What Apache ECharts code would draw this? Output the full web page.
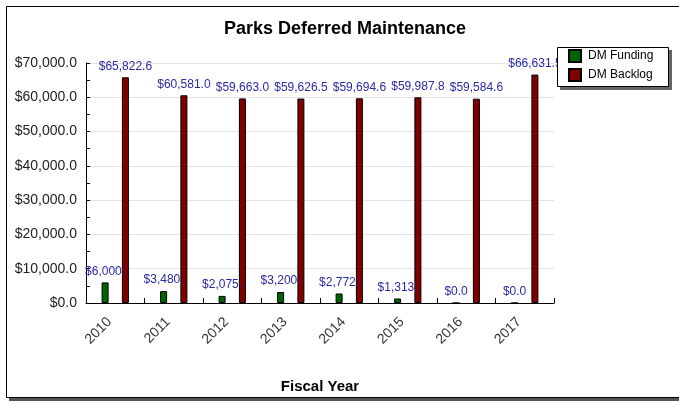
<!DOCTYPE html>
<html>
<head>
<meta charset="utf-8">
<script src="https://cdn.jsdelivr.net/npm/echarts@6/dist/echarts.min.js"></script>
<style>
html,body{margin:0;padding:0;background:#fff;}
#c{width:679px;height:403px;}
</style>
</head>
<body>
<div id="c"></div>
<script>
const categories = ['2010','2011','2012','2013','2014','2015','2016','2017'];
const dmFunding = [6000, 3480, 2075, 3200, 2772, 1313, 0, 0];
const dmBacklog = [65822.6, 60581.0, 59663.0, 59626.5, 59694.6, 59987.8, 59584.6, 66631.5];
const seriesNames = ['DM Funding', 'DM Backlog'];

const FONT = '"Liberation Sans", Arial, sans-serif';
function money(v) {
  return '$' + Number(v).toLocaleString('en-US', {minimumFractionDigits: 1, maximumFractionDigits: 1});
}
// the original chart clips the funding labels to a fixed width
function clipped(v) {
  const s = money(v);
  return s.length > 7 ? s.slice(0, 7) : s;
}

const chart = echarts.init(document.getElementById('c'), null, {renderer: 'canvas'});
const labelCommon = {
  show: true,
  position: 'top',
  distance: 5,
  color: '#2a2aa6',
  fontFamily: FONT,
  fontSize: 12,
  formatter: p => money(p.value)
};
chart.setOption({
  animation: false,
  backgroundColor: 'transparent',
  graphic: [
    {type: 'rect', z: -10, shape: {x: 9, y: 9, width: 700, height: 392}, style: {fill: '#555'}},
    {type: 'rect', z: -9, shape: {x: 6.5, y: 6.5, width: 700, height: 391}, style: {fill: '#fff', stroke: '#000', lineWidth: 1}},
    {type: 'rect', z: 8, shape: {x: 560, y: 50, width: 112, height: 40}, style: {fill: '#666'}},
    {type: 'rect', z: 9, shape: {x: 557.5, y: 47.5, width: 111, height: 39}, style: {fill: '#fff', stroke: '#000', lineWidth: 1}}
  ],
  title: {
    text: 'Parks Deferred Maintenance',
    left: 340, top: 15, textAlign: 'center',
    textStyle: {fontFamily: FONT, fontSize: 18, fontWeight: 'bold', color: '#000'}
  },
  legend: {
    z: 12,
    orient: 'vertical',
    left: 568, top: 49,
    padding: 0,
    itemGap: 5,
    itemWidth: 12, itemHeight: 12,
    textStyle: {fontFamily: FONT, fontSize: 12, lineHeight: 12, color: '#000', padding: [0, 0, 0, 2]},
    icon: 'rect',
    data: seriesNames
  },
  grid: {left: 86, top: 63, right: 125, bottom: 100, containLabel: false},
  xAxis: {
    type: 'category',
    data: categories,
    name: 'Fiscal Year',
    nameLocation: 'middle',
    nameGap: 76,
    nameTextStyle: {fontFamily: FONT, fontSize: 15, fontWeight: 'bold', color: '#000'},
    axisLine: {lineStyle: {color: '#000', width: 1}},
    axisTick: {show: true, inside: true, length: 5, alignWithLabel: false, interval: 0, lineStyle: {color: '#000'}},
    axisLabel: {rotate: 45, interval: 0, fontFamily: FONT, fontSize: 14, color: '#333', margin: 11, padding: [0, 8, 0, 0]},
    splitLine: {show: false}
  },
  yAxis: {
    type: 'value',
    min: 0, max: 70000, interval: 10000,
    axisLine: {show: true, lineStyle: {color: '#000', width: 1}},
    axisTick: {show: true, inside: true, length: 4, lineStyle: {color: '#000'}},
    minorTick: {show: true, splitNumber: 2, length: 4, lineStyle: {color: '#000'}},
    axisLabel: {fontFamily: FONT, fontSize: 14, color: '#222', margin: 9, formatter: v => money(v)},
    splitLine: {show: true, lineStyle: {color: '#e2e2e2', width: 1}}
  },
  series: [
    {
      name: seriesNames[0], type: 'bar', data: dmFunding,
      barWidth: 7, barGap: '190%',
      itemStyle: {color: '#006400', borderColor: '#000', borderWidth: 1},
      label: Object.assign({}, labelCommon, {formatter: p => clipped(p.value)})
    },
    {
      name: seriesNames[1], type: 'bar', data: dmBacklog,
      barWidth: 7, barGap: '190%',
      itemStyle: {color: '#800000', borderColor: '#000', borderWidth: 1},
      label: labelCommon
    }
  ]
});
</script>
</body>
</html>
